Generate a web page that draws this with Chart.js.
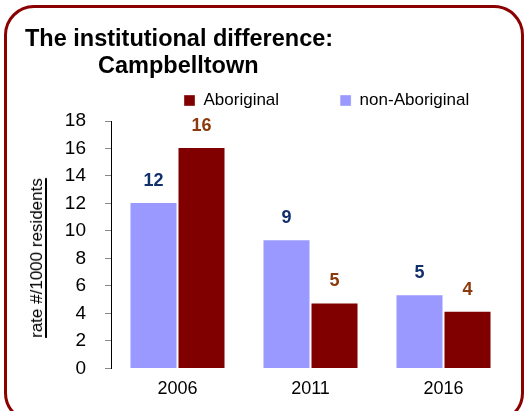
<!DOCTYPE html>
<html>
<head>
<meta charset="utf-8">
<script src="https://cdn.jsdelivr.net/npm/chart.js@4/dist/chart.umd.min.js"></script>
<style>
  html, body { margin: 0; padding: 0; background: #fff; }
  #wrap { position: relative; width: 528px; height: 411px; overflow: hidden; font-family: "Liberation Sans", Arial, sans-serif; }
  #frame { position: absolute; left: 4px; top: 5px; width: 514px; height: 412px; border: 3px solid #8b0000; border-radius: 30px; }
  #title { position: absolute; left: 25px; top: 25px; font-weight: bold; font-size: 23.5px; line-height: 27px; color: #000; }
  #title .l2 { padding-left: 73px; }
  #ylab { position: absolute; left: 37px; top: 258px; transform: translate(-50%, -50%) rotate(-90deg);
          white-space: nowrap; font-size: 17px; color: #000;
          text-decoration: underline; text-decoration-thickness: 2px; text-underline-offset: 3px; }
  canvas { position: absolute; left: 0; top: 0; }
</style>
</head>
<body>
<div id="wrap">
  <div id="frame"></div>
  <canvas id="chart" width="528" height="411"></canvas>
  <div id="title"><div>The institutional difference:</div><div class="l2">Campbelltown</div></div>
  <div id="ylab">rate #/1000 residents</div>
</div>
<script>
// chart data
const years = ['2006', '2011', '2016'];
const nonAboriginal = [12.1, 9.4, 5.4];
const aboriginal = [16.1, 4.8, 4.2];
const yTicks = [0, 2, 4, 6, 8, 10, 12, 14, 16, 18];

const LEGEND_GAP = 61;

// values printed above the bars
const valueLabels = {
    id: 'valueLabels',
    afterDatasetsDraw(chart) {
        const ctx = chart.ctx;
        ctx.save();
        ctx.font = 'bold 18px "Liberation Sans", Arial, sans-serif';
        ctx.textAlign = 'center';
        ctx.textBaseline = 'middle';
        chart.data.datasets.forEach((ds, i) => {
            chart.getDatasetMeta(i).data.forEach((bar, j) => {
                ctx.fillStyle = ds.labelColor;
                ctx.fillText(Math.round(ds.data[j]), bar.x, bar.y - 21);
            });
        });
        ctx.restore();
    }
};

// move the legend over the right part of the plot
const legendPlace = {
    id: 'legendPlace',
    afterLayout(chart) {
        chart.legend.left = 184 - LEGEND_GAP;
        chart.legend.right = 800;
        chart.legend.top -= 2;
    }
};

new Chart(document.getElementById('chart'), {
    type: 'bar',
    data: {
        labels: years,
        datasets: [
            { label: 'non-Aboriginal', data: nonAboriginal, backgroundColor: '#9999ff', labelColor: '#12306b',
              borderColor: 'rgba(255,255,255,0.35)', borderWidth: 1 },
            { label: 'Aboriginal', data: aboriginal, backgroundColor: '#800000', labelColor: '#8b3a0c',
              borderColor: 'rgba(255,255,255,0.35)', borderWidth: 1 }
        ]
    },
    options: {
        responsive: false,
        animation: false,
        layout: { padding: { top: 33, left: 22, right: 18, bottom: 1 } },
        datasets: { bar: { categoryPercentage: 0.722, barPercentage: 1 } },
        plugins: {
            legend: {
                position: 'top',
                align: 'start',
                reverse: true,
                labels: {
                    boxWidth: 11, boxHeight: 11, padding: LEGEND_GAP, color: '#000',
                    font: { size: 17, family: '"Liberation Sans", Arial, sans-serif' }
                }
            },
            title: { display: false },
            tooltip: { enabled: false }
        },
        scales: {
            x: {
                grid: { display: false, drawTicks: false },
                border: { display: false },
                ticks: { color: '#000', padding: 10, font: { size: 18, family: '"Liberation Sans", Arial, sans-serif' } }
            },
            y: {
                min: 0,
                max: 18,
                afterFit(s) { s.width = 111 - 22; },
                afterBuildTicks(s) { s.ticks = yTicks.map(v => ({ value: v })); },
                grid: { drawOnChartArea: false, tickLength: 6, color: '#888' },
                border: { display: true, color: '#000', width: 1 },
                ticks: { color: '#000', padding: 19, font: { size: 19, family: '"Liberation Sans", Arial, sans-serif' } },
                title: { display: false, text: 'rate #/1000 residents' }
            }
        }
    },
    plugins: [valueLabels, legendPlace]
});
</script>
</body>
</html>
